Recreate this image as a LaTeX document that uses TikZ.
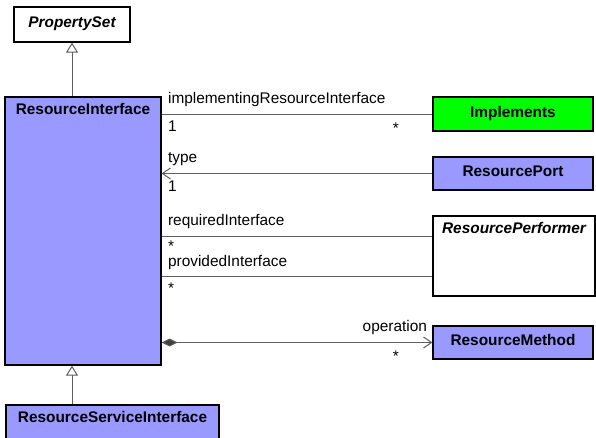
\documentclass[tikz,border=0pt]{standalone}
\usepackage{fontspec}
\setmainfont{Liberation Sans}
\usetikzlibrary{arrows.meta}
\definecolor{ifaceblue}{RGB}{153,153,255}
\definecolor{implgreen}{RGB}{0,255,0}
\definecolor{linegray}{RGB}{95,95,95}

\begin{document}
\begin{tikzpicture}[
    x=1pt, y=-1pt,
    font=\fontsize{15.4pt}{18pt}\selectfont,
    classname/.style={font=\fontsize{15.4pt}{18pt}\selectfont\bfseries},
    absname/.style={font=\fontsize{15.4pt}{18pt}\selectfont\bfseries\itshape},
    classbox/.style={rectangle, draw=black, line width=1.2pt, inner sep=0pt, text height=11pt, text depth=5pt, classname},
    abstract/.style={classbox, fill=white, absname},
    iface/.style={classbox, fill=ifaceblue},
    link/.style={draw=linegray, line width=1pt},
    gen/.style={link, -{Triangle[open, length=10pt, width=12pt, fill=white]}},
    nav/.style={link, -{Straight Barb[length=8pt, width=11pt]}},
    role/.style={inner sep=0pt, text=black}
]
\useasboundingbox (0,0) rectangle (596,437);

% Classes
\node[abstract, minimum width=116pt, minimum height=35pt] (ps) at (72,24.5) {PropertySet};
\node[iface, minimum width=156pt, minimum height=268pt,
      label={[classname, anchor=north, yshift=-3pt]north:ResourceInterface}] (ri) at (83,231) {};
\node[iface, minimum width=213pt, minimum height=40pt,
      label={[classname, anchor=north, yshift=-3pt]north:ResourceServiceInterface}] (rsi) at (112.5,425) {};

\node[classbox, fill=implgreen, minimum width=160pt, minimum height=34pt] (impl) at (513,114) {Implements};
\node[iface, minimum width=160pt, minimum height=33pt] (port) at (513,173.5) {ResourcePort};
\node[abstract, minimum width=162pt, minimum height=80pt,
      label={[absname, anchor=north, yshift=-3pt]north:ResourcePerformer}] (perf) at (514,256) {};
\node[iface, minimum width=160pt, minimum height=33pt] (rm) at (513,342.5) {ResourceMethod};

% Generalizations
\draw[gen] (ri.north -| ps.south) -- (ps.south);
\draw[gen] (rsi.north -| ps.south) -- (ri.south -| ps.south);

% Associations
\draw[link] (ri.east |- impl.west) -- (impl.west)
    node[role, pos=0, anchor=base west, xshift=6pt, yshift=11pt] {implementingResourceInterface}
    node[role, pos=0, anchor=base west, xshift=6pt, yshift=-17.5pt] {1}
    node[role, pos=1, anchor=base east, xshift=-33pt, yshift=-19pt] {*};

\draw[nav] (port.west) -- (ri.east |- port.west)
    node[role, pos=1, anchor=base west, xshift=6pt, yshift=11pt] {type}
    node[role, pos=1, anchor=base west, xshift=6pt, yshift=-17.5pt] {1};

\coordinate (reqend) at ([yshift=20pt]perf.west);
\coordinate (provend) at ([yshift=-20pt]perf.west);

\draw[link] (reqend -| ri.east) -- (reqend)
    node[role, pos=0, anchor=base west, xshift=6pt, yshift=11pt] {requiredInterface}
    node[role, pos=0, anchor=base west, xshift=6pt, yshift=-15pt] {*};
\draw[link] (provend -| ri.east) -- (provend)
    node[role, pos=0, anchor=base west, xshift=6pt, yshift=10pt] {providedInterface}
    node[role, pos=0, anchor=base west, xshift=6pt, yshift=-17pt] {*};

% Composition
\draw[link, {Diamond[length=16pt, width=8pt, fill=darkgray]}-{Straight Barb[length=8pt, width=11pt]}]
    (ri.east |- rm.west) -- (rm.west)
    node[role, pos=1, anchor=base east, xshift=-5pt, yshift=11pt] {operation}
    node[role, pos=1, anchor=base east, xshift=-33pt, yshift=-19pt] {*};

\end{tikzpicture}
\end{document}
